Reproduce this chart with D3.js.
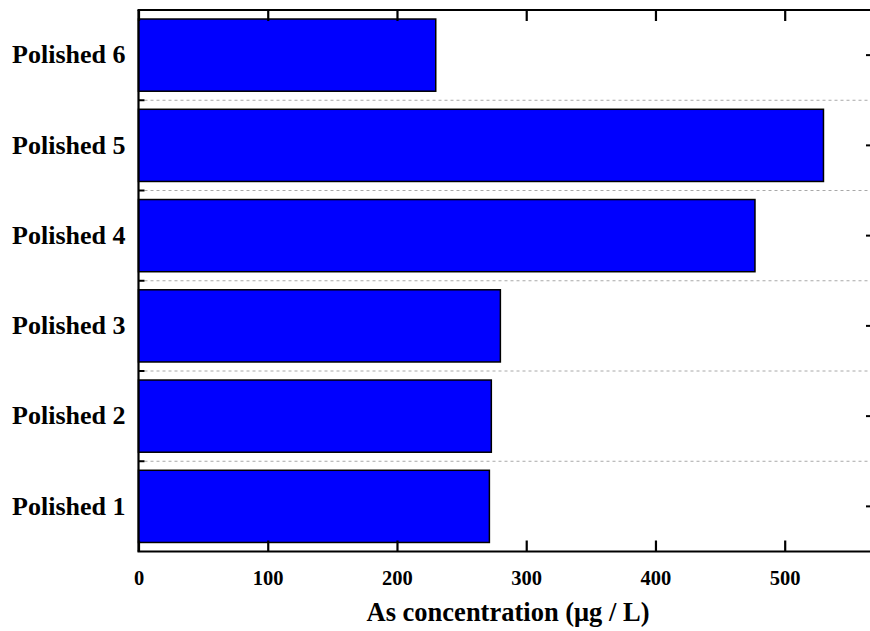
<!DOCTYPE html>
<html>
<head>
<meta charset="utf-8">
<script src="https://cdn.jsdelivr.net/npm/d3@7/dist/d3.min.js"></script>
<style>
  html, body { margin: 0; padding: 0; background: #fff; }
  svg { display: block; }
  text { font-family: "Liberation Serif", "Times New Roman", serif; font-weight: bold; fill: #000; }
</style>
</head>
<body>
<svg id="chart" width="870" height="631"></svg>
<script>
// Samples, listed from bottom to top
const categories = ["Polished 1", "Polished 2", "Polished 3", "Polished 4", "Polished 5", "Polished 6"];
// Arsenic concentration per sample (µg/L)
const values = [271.5, 273, 280, 477, 530, 230];
const xTicks = [0, 100, 200, 300, 400, 500];
const xDomain = [0, 566];
const xTitle = "As concentration (\u03bcg / L)";

const svg = d3.select("#chart");
const plotLeft = 138.5, plotRight = 870, plotTop = 10, plotBottom = 551.5;

const x = d3.scaleLinear().domain(xDomain).range([plotLeft, plotRight]);
const y = d3.scaleBand()
  .domain(categories.slice().reverse())
  .range([plotTop, plotBottom])
  .paddingInner(0.2)
  .paddingOuter(0.1);

// dashed separators between categories
const bounds = categories.slice().reverse().slice(1).map(c => y(c) - y.step() * y.paddingInner() / 2);
svg.append("g").selectAll("line").data(bounds).join("line")
  .attr("x1", plotLeft).attr("x2", plotRight)
  .attr("y1", d => d).attr("y2", d => d)
  .attr("stroke", "#a8a8a8").attr("stroke-width", 1)
  .attr("stroke-dasharray", "3,3");

// bars
svg.append("g").selectAll("rect").data(categories).join("rect")
  .attr("x", x(0))
  .attr("y", d => y(d))
  .attr("width", (d, i) => x(values[i]) - x(0))
  .attr("height", y.bandwidth())
  .attr("fill", "#0000ff")
  .attr("stroke", "#000")
  .attr("stroke-width", 1.5);

// frame
const frame = svg.append("g").attr("stroke", "#000").attr("stroke-width", 2.2);
frame.append("line").attr("x1", plotLeft - 1).attr("x2", plotRight).attr("y1", plotTop).attr("y2", plotTop);
frame.append("line").attr("x1", plotLeft - 1).attr("x2", plotRight).attr("y1", plotBottom).attr("y2", plotBottom);
frame.append("line").attr("x1", plotLeft).attr("x2", plotLeft).attr("y1", plotTop).attr("y2", plotBottom);

// bottom axis ticks (inward) and labels
const bottomAxis = d3.axisBottom(x).tickValues(xTicks).tickSizeInner(-11).tickSizeOuter(0).tickPadding(19);
const gb = svg.append("g").attr("transform", `translate(0,${plotBottom})`).call(bottomAxis);
gb.select(".domain").remove();
gb.selectAll(".tick line").attr("stroke", "#000").attr("stroke-width", 2.2);
gb.selectAll(".tick text").style("font-size", "20.5px").style("font-family", "'Liberation Serif', serif").style("font-weight", "bold");

// top axis ticks (inward)
const topAxis = d3.axisTop(x).tickValues(xTicks).tickSizeInner(-11).tickSizeOuter(0).tickFormat("");
const gt = svg.append("g").attr("transform", `translate(0,${plotTop})`).call(topAxis);
gt.select(".domain").remove();
gt.selectAll(".tick line").attr("stroke", "#000").attr("stroke-width", 2.2);

// left axis: category labels, short ticks at band boundaries
const leftAxis = d3.axisLeft(y).tickSize(0).tickPadding(13);
const gl = svg.append("g").attr("transform", `translate(${plotLeft},0)`).call(leftAxis);
gl.select(".domain").remove();
gl.selectAll(".tick text").style("font-size", "26px").style("font-family", "'Liberation Serif', serif").style("font-weight", "bold");
svg.append("g").selectAll("line").data(bounds).join("line")
  .attr("x1", plotLeft).attr("x2", plotLeft + 6)
  .attr("y1", d => d).attr("y2", d => d)
  .attr("stroke", "#000").attr("stroke-width", 2);

// right side: short ticks at band centres
svg.append("g").selectAll("line").data(categories).join("line")
  .attr("x1", plotRight - 4).attr("x2", plotRight)
  .attr("y1", d => y(d) + y.bandwidth() / 2).attr("y2", d => y(d) + y.bandwidth() / 2)
  .attr("stroke", "#000").attr("stroke-width", 2);

// axis title
svg.append("text")
  .attr("x", 508).attr("y", 621)
  .attr("text-anchor", "middle")
  .style("font-size", "26.5px")
  .text(xTitle);
</script>
</body>
</html>
